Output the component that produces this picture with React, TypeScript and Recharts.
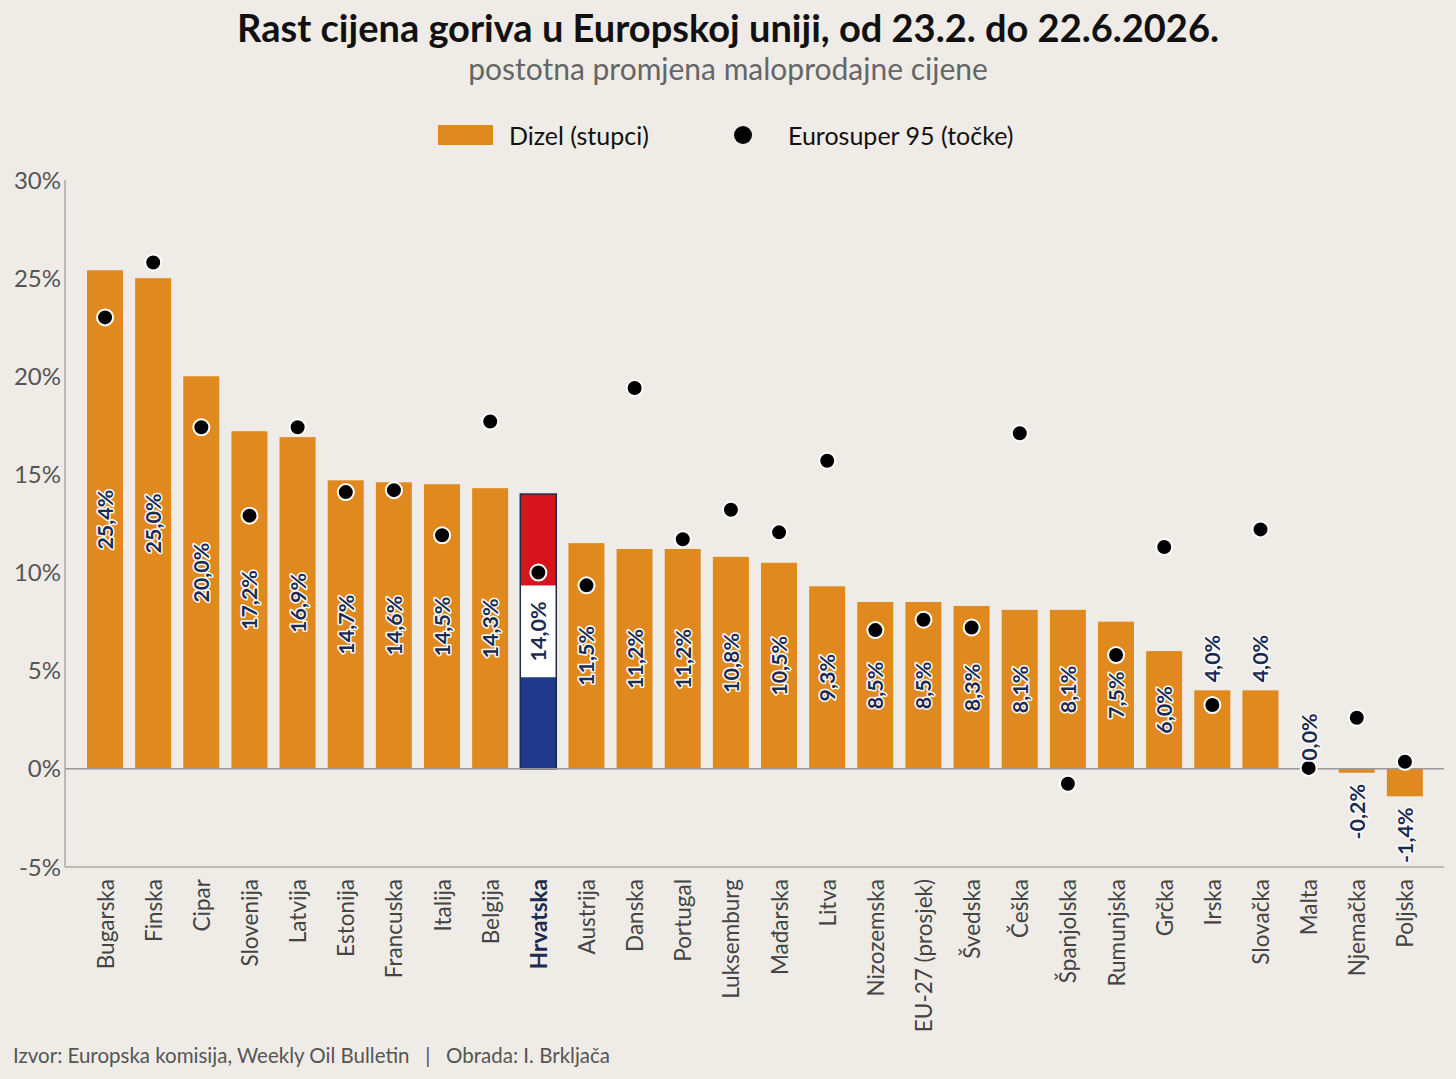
import React from "react";
import {
  ComposedChart,
  Bar,
  Line,
  XAxis,
  YAxis,
  ReferenceLine,
  LabelList,
  Cell,
} from "recharts";

const categories = [
  "Bugarska", "Finska", "Cipar", "Slovenija", "Latvija", "Estonija", "Francuska",
  "Italija", "Belgija", "Hrvatska", "Austrija", "Danska", "Portugal", "Luksemburg",
  "Mađarska", "Litva", "Nizozemska", "EU-27 (prosjek)", "Švedska", "Češka",
  "Španjolska", "Rumunjska", "Grčka", "Irska", "Slovačka", "Malta", "Njemačka", "Poljska",
];
const dizel = [
  25.4, 25.0, 20.0, 17.2, 16.9, 14.7, 14.6, 14.5, 14.3, 14.0, 11.5, 11.2, 11.2, 10.8,
  10.5, 9.3, 8.5, 8.5, 8.3, 8.1, 8.1, 7.5, 6.0, 4.0, 4.0, 0.0, -0.2, -1.4,
];
const eurosuper = [
  23.0, 25.8, 17.4, 12.9, 17.4, 14.1, 14.2, 11.9, 17.7, 10.0, 9.35, 19.4, 11.7, 13.2,
  12.05, 15.7, 7.07, 7.6, 7.2, 17.1, -0.76, 5.8, 11.3, 3.25, 12.2, 0.05, 2.6, 0.36,
];
const yTicks = [-5, 0, 5, 10, 15, 20, 25, 30];

const HIGHLIGHT = "Hrvatska";
const ORANGE = "#E0891F";
const NAVY = "#1B2B52";
const BG = "#EFECE7";

const data = categories.map((name, i) => ({
  name,
  dizel: dizel[i],
  benzin: eurosuper[i],
}));

const fmt = (v: number) => v.toFixed(1).replace(".", ",") + "%";

const BarShape = (props: any) => {
  const { x, y, width, height, payload } = props;
  const top = Math.min(y, y + height);
  const h = Math.abs(height);
  if (payload && payload.name === HIGHLIGHT) {
    const third = h / 3;
    return (
      <g>
        <rect x={x} y={top} width={width} height={third} fill="#D7141E" />
        <rect x={x} y={top + third} width={width} height={third} fill="#FFFFFF" />
        <rect x={x} y={top + 2 * third} width={width} height={third} fill="#1F3A8A" />
        <rect x={x} y={top} width={width} height={h} fill="none" stroke={NAVY} strokeWidth={1.5} />
      </g>
    );
  }
  return <rect x={x} y={top} width={width} height={h} fill={ORANGE} />;
};

const BarLabel = (props: any) => {
  const { x, y, width, height, value } = props;
  const v = Number(value);
  const cx = x + width / 2;
  const top = Math.min(y, y + height);
  const bottom = Math.max(y, y + height);
  let ty = (top + bottom) / 2;
  let anchor: "middle" | "start" | "end" = "middle";
  if (Math.abs(v) < 5) {
    if (v >= 0) {
      ty = top - 8;
      anchor = "start";
    } else {
      ty = bottom + 11;
      anchor = "end";
    }
  }
  return (
    <text
      x={cx}
      y={ty}
      transform={`rotate(-90 ${cx} ${ty})`}
      textAnchor={anchor}
      dominantBaseline="central"
      fontSize={21.5}
      fontWeight={700}
      fill={NAVY}
      stroke="#FFFFFF"
      strokeWidth={3}
      paintOrder="stroke"
      strokeLinejoin="round"
    >
      {fmt(v)}
    </text>
  );
};

const XTick = (props: any) => {
  const { x, y, payload } = props;
  const bold = payload.value === HIGHLIGHT;
  const ty = y + 4;
  return (
    <text
      x={x}
      y={ty}
      transform={`rotate(-90 ${x} ${ty})`}
      textAnchor="end"
      dominantBaseline="central"
      fontSize={22.5}
      fontWeight={bold ? 700 : 400}
      fill={bold ? NAVY : "#444"}
    >
      {payload.value}
    </text>
  );
};

export default function App() {
  return (
    <div
      style={{
        position: "absolute",
        left: 0,
        top: 0,
        width: 1456,
        height: 1079,
        background: BG,
        fontFamily: "Lato, 'Noto Sans', sans-serif",
        overflow: "hidden",
      }}
    >
      <div
        style={{
          position: "absolute",
          top: 4,
          width: "100%",
          textAlign: "center",
          fontSize: 38,
          fontWeight: 700,
          color: "#111",
        }}
      >
        Rast cijena goriva u Europskoj uniji, od 23.2. do 22.6.2026.
      </div>
      <div
        style={{
          position: "absolute",
          top: 50,
          width: "100%",
          textAlign: "center",
          fontSize: 30,
          color: "#666",
        }}
      >
        postotna promjena maloprodajne cijene
      </div>

      <div style={{ position: "absolute", top: 125, left: 438, width: 55, height: 20, background: ORANGE }} />
      <div style={{ position: "absolute", top: 120, left: 509, fontSize: 25, color: "#111" }}>
        Dizel (stupci)
      </div>
      <div
        style={{
          position: "absolute",
          top: 126,
          left: 734,
          width: 18,
          height: 18,
          borderRadius: 9,
          background: "#000",
        }}
      />
      <div style={{ position: "absolute", top: 120, left: 788, fontSize: 25, color: "#111" }}>
        Eurosuper 95 (točke)
      </div>

      <div style={{ position: "absolute", top: 0, left: 0 }}>
        <ComposedChart
          width={1456}
          height={1079}
          data={data}
          margin={{ top: 180, right: 12, left: 0, bottom: 0 }}
        >
          <XAxis
            dataKey="name"
            type="category"
            interval={0}
            height={212}
            padding={{ left: 16, right: 15 }}
            axisLine={{ stroke: "#AAA", strokeWidth: 1.5 }}
            tickLine={false}
            tick={<XTick />}
          />
          <YAxis
            width={65}
            domain={[-5, 30]}
            ticks={yTicks}
            allowDataOverflow
            tickFormatter={(v: number) => `${v}%`}
            axisLine={{ stroke: "#AAA", strokeWidth: 1.5 }}
            tickLine={false}
            tickSize={0}
            tickMargin={4}
            tick={{ fill: "#555", fontSize: 24 }}
          />
          <ReferenceLine y={0} stroke="#999" strokeWidth={1.5} />
          <Bar dataKey="dizel" barSize={36} shape={<BarShape />} isAnimationActive={false}>
            {data.map((d, i) => (
              <Cell key={i} fill={ORANGE} />
            ))}
            <LabelList dataKey="dizel" content={<BarLabel />} />
          </Bar>
          <Line
            dataKey="benzin"
            stroke="none"
            dot={{ r: 8, fill: "#000", stroke: "#FFF", strokeWidth: 2 }}
            activeDot={false}
            isAnimationActive={false}
          />
        </ComposedChart>
      </div>

      <div style={{ position: "absolute", top: 1043, left: 13, fontSize: 20.5, color: "#555", whiteSpace: "pre" }}>
        {"Izvor: Europska komisija, Weekly Oil Bulletin   |   Obrada: I. Brkljača"}
      </div>
    </div>
  );
}
